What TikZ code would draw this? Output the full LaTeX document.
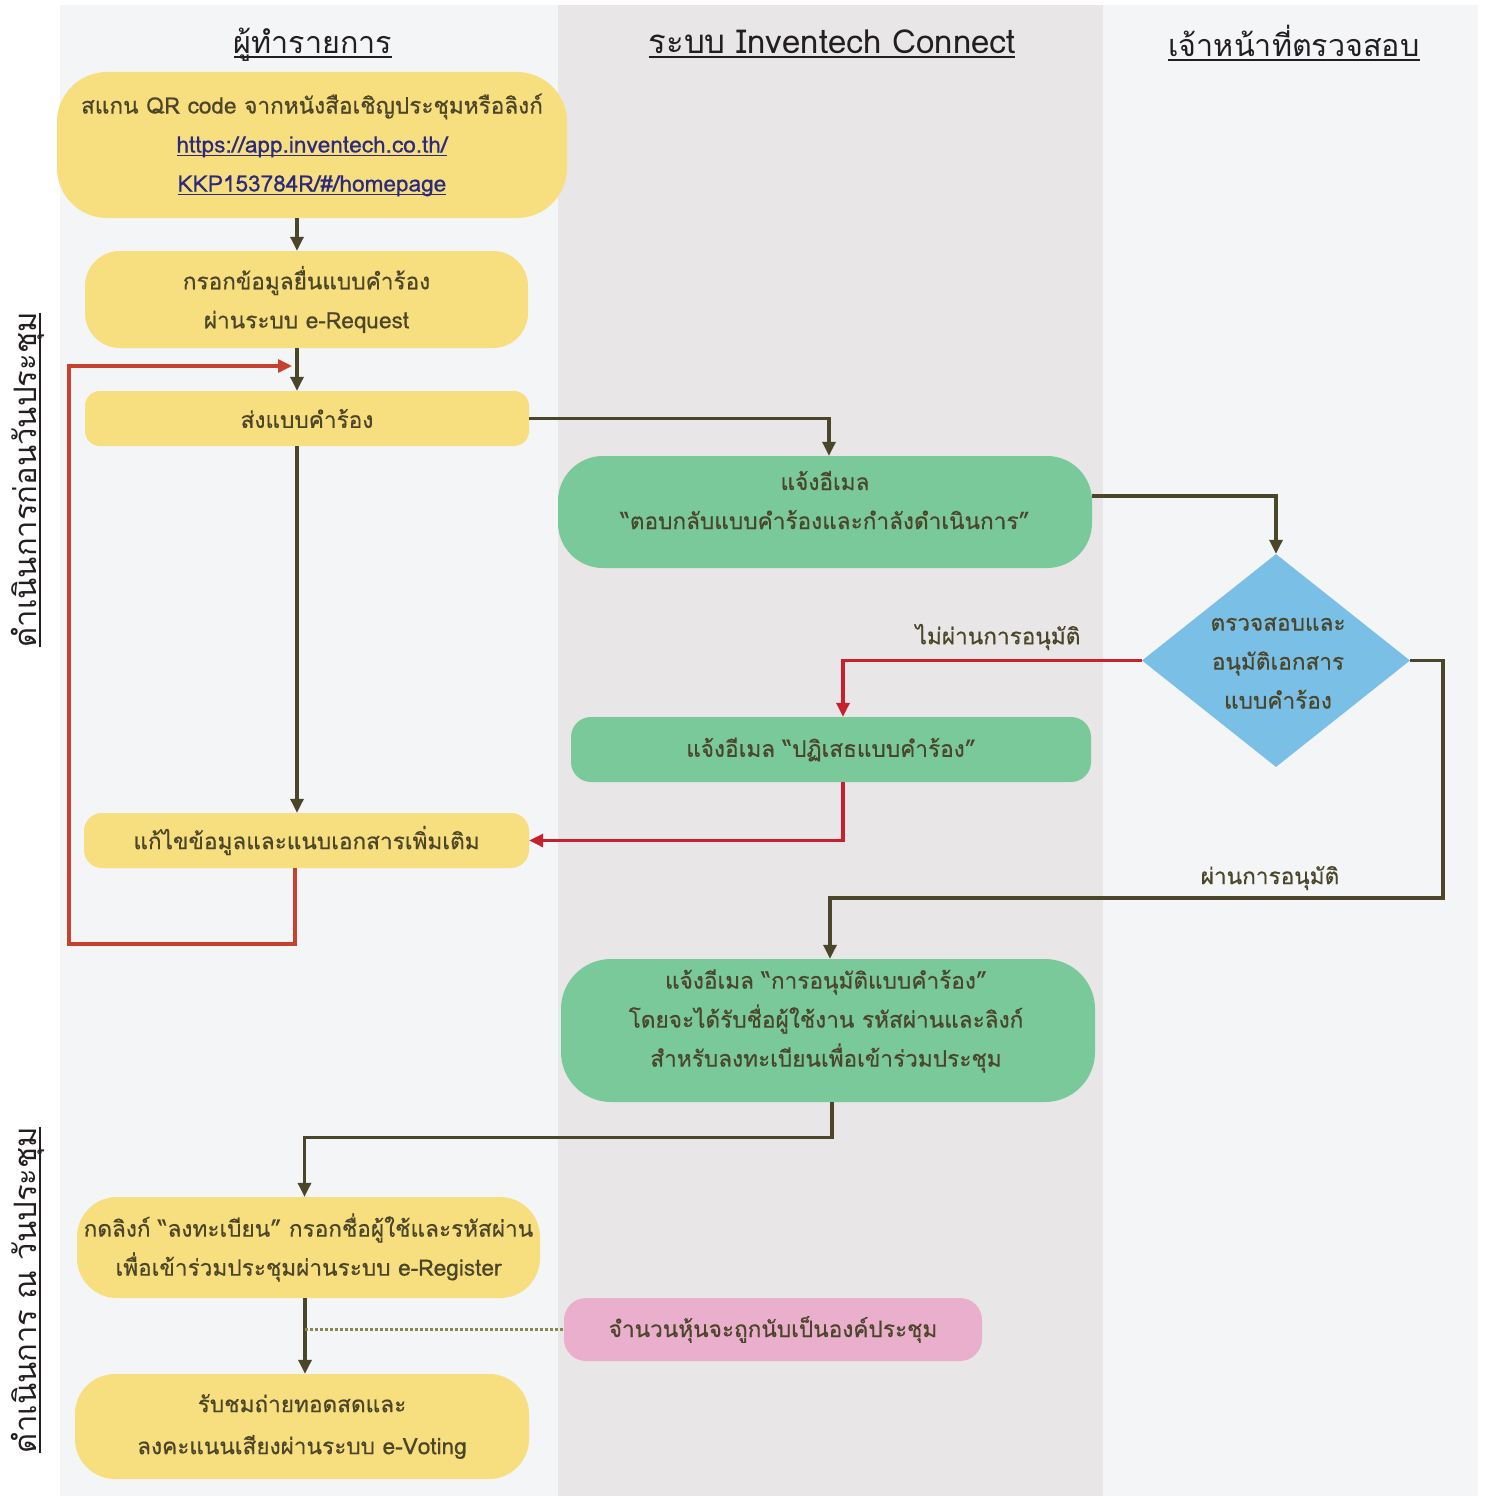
\documentclass[tikz,border=0pt]{standalone}
\usepackage{fontspec}
\setmainfont[Script=Thai, FakeBold=0.5]{Loma}
\newfontfamily\hdfont[Script=Thai]{Loma}
\usetikzlibrary{arrows.meta,shapes.geometric}
\definecolor{laneA}{HTML}{F4F5F7}
\definecolor{laneB}{HTML}{E8E6E7}
\definecolor{ybox}{HTML}{F7DE7E}
\definecolor{gbox}{HTML}{79C99B}
\definecolor{bbox}{HTML}{79BFE6}
\definecolor{pbox}{HTML}{EBAFCE}
\definecolor{lineC}{HTML}{4B4529}
\definecolor{redC}{HTML}{C8202C}
\definecolor{loopC}{HTML}{C8412E}
\definecolor{txtC}{HTML}{4B4529}
\definecolor{hdC}{HTML}{231F20}
\definecolor{linkC}{HTML}{2B2A7E}
\definecolor{dotC}{HTML}{8A874E}
\newcommand{\hdul}[1]{\setbox0=\hbox{#1}\leavevmode\rlap{\rule[-4pt]{\wd0}{1.8pt}}\box0}
\newcommand{\lnkul}[1]{{\color{linkC}\setbox0=\hbox{#1}\leavevmode\rlap{\rule[-3pt]{\wd0}{1pt}}\box0}}
\tikzset{
  box/.style={rectangle, inner sep=0pt, align=center, text=txtC,
    font=\fontsize{22.6}{39}\selectfont},
  ybx/.style={box, fill=ybox},
  gbx/.style={box, fill=gbox},
  pbx/.style={box, fill=pbox},
  hdr/.style={text=hdC, font=\hdfont\fontsize{30.5}{36}\selectfont},
  side/.style={text=hdC, font=\hdfont\fontsize{31}{36}\selectfont, rotate=90},
  lbl/.style={text=txtC, font=\fontsize{22.6}{30}\selectfont},
  flow/.style={draw=lineC, line width=3.2pt, -{Triangle[length=14pt,width=13pt]}},
  rflow/.style={draw=redC, line width=3.2pt, -{Triangle[length=14pt,width=13pt]}},
  lflow/.style={draw=loopC, line width=3.2pt, -{Triangle[length=14pt,width=13pt]}},
}
\begin{document}
\begin{tikzpicture}[x=1pt,y=-1pt]
\useasboundingbox (0,0) rectangle (1487,1496);
\fill[white] (0,0) rectangle (1487,1496);
% lanes
\fill[laneA] (60,5) rectangle (558,1496);
\fill[laneB] (558,5) rectangle (1103,1496);
\fill[laneA] (1103,5) rectangle (1478,1496);
% headers
\node[hdr] (h1) at (313,45) {\hdul{ผู้ทำรายการ}};
\node[hdr, font=\hdfont\fontsize{33}{36}\selectfont] (h2) at (832,44) {\hdul{ระบบ Inventech Connect}};
\node[hdr] (h3) at (1294,43) {\hdul{เจ้าหน้าที่ตรวจสอบ}};
% side labels
\node[side] (s1) at (28,480) {\hdul{ดำเนินการก่อนวันประชุม}};
\node[side] (s2) at (28,1290) {\hdul{ดำเนินการ ณ วันประชุม}};
% nodes
\node[ybx, minimum width=510pt, minimum height=146pt, rounded corners=50pt] (scan) at (312,145)
  {สแกน QR code จากหนังสือเชิญประชุมหรือลิงก์\\ \lnkul{https://app.inventech.co.th/}\\ \lnkul{KKP153784R/\#/homepage}};
\node[ybx, minimum width=443pt, minimum height=97pt, rounded corners=35pt] (fill) at (306.5,299.5)
  {กรอกข้อมูลยื่นแบบคำร้อง\\ ผ่านระบบ e-Request};
\node[ybx, minimum width=444pt, minimum height=55pt, rounded corners=15pt] (send) at (307,418.5)
  {ส่งแบบคำร้อง};
\node[gbx, minimum width=534pt, minimum height=112pt, rounded corners=45pt] (g1) at (825,512) {};
\node[box] (g1t) at (825,500) {แจ้งอีเมล\\ “ตอบกลับแบบคำร้องและกำลังดำเนินการ”};
\node[diamond, fill=bbox, minimum width=268pt, minimum height=213pt, inner sep=0pt] (chk) at (1276,660.5) {};
\node[box] (chkt) at (1278,663) {ตรวจสอบและ\\ อนุมัติเอกสาร\\ แบบคำร้อง};
\node[gbx, minimum width=520pt, minimum height=65pt, rounded corners=20pt] (rej) at (831,749.5)
  {แจ้งอีเมล “ปฏิเสธแบบคำร้อง”};
\node[ybx, minimum width=445pt, minimum height=55pt, rounded corners=18pt] (fix) at (306.5,840.5)
  {แก้ไขข้อมูลและแนบเอกสารเพิ่มเติม};
\node[gbx, minimum width=534pt, minimum height=143pt, rounded corners=50pt] (app) at (828,1030.5) {};
\node[box] (appt) at (826,1021) {แจ้งอีเมล “การอนุมัติแบบคำร้อง”\\ โดยจะได้รับชื่อผู้ใช้งาน รหัสผ่านและลิงก์\\ สำหรับลงทะเบียนเพื่อเข้าร่วมประชุม};
\node[ybx, minimum width=463pt, minimum height=101pt, rounded corners=40pt] (reg) at (308.5,1247.5)
  {กดลิงก์ “ลงทะเบียน” กรอกชื่อผู้ใช้และรหัสผ่าน\\ เพื่อเข้าร่วมประชุมผ่านระบบ e-Register};
\node[pbx, minimum width=418pt, minimum height=63pt, rounded corners=22pt] (pink) at (773,1329.5)
  {จำนวนหุ้นจะถูกนับเป็นองค์ประชุม};
\node[ybx, minimum width=454pt, minimum height=105pt, rounded corners=40pt, font=\fontsize{22.6}{42}\selectfont] (watch) at (302,1426.5)
  {รับชมถ่ายทอดสดและ\\ ลงคะแนนเสียงผ่านระบบ e-Voting};
% labels
\node[lbl] (lno) at (998,637) {ไม่ผ่านการอนุมัติ};
\node[lbl] (lyes) at (1270,878) {ผ่านการอนุมัติ};
% helper coordinates
\coordinate (c1) at (297,0);
\coordinate (c2) at (295,0);
\coordinate (c3) at (305,0);
\coordinate (lb) at (69,944);
\coordinate (lt) at (292,366);
\coordinate (pa) at (1443,898);
% connectors
\draw[flow] (scan.south -| c1) -- (fill.north -| c1);
\draw[flow] (fill.south -| c1) -- (send.north -| c1);
\draw[flow] (send.south -| c1) -- (fix.north -| c1);
\draw[flow] (send.east) -| ([xshift=4pt]g1.north);
\draw[flow] ([yshift=16pt]g1.east) -| (chk.north);
\draw[rflow] (chk.west) -| ([xshift=12pt]rej.north);
\draw[rflow] ([xshift=12pt]rej.south) |- (fix.east);
\draw[lflow] (fix.south -| c2) |- (lb) |- (lt);
\draw[flow] (chk.east) -| (pa) -| ([xshift=2pt]app.north);
\draw[flow] ([xshift=4pt]app.south) -- ++(0,35) -| ([xshift=-4pt]reg.north);
\draw[flow] (reg.south -| c3) -- (watch.north -| c3);
\draw[draw=dotC, line width=3pt, dash pattern=on 3pt off 2pt] (pink.west -| c3) -- (pink.west);
\end{tikzpicture}
\end{document}
